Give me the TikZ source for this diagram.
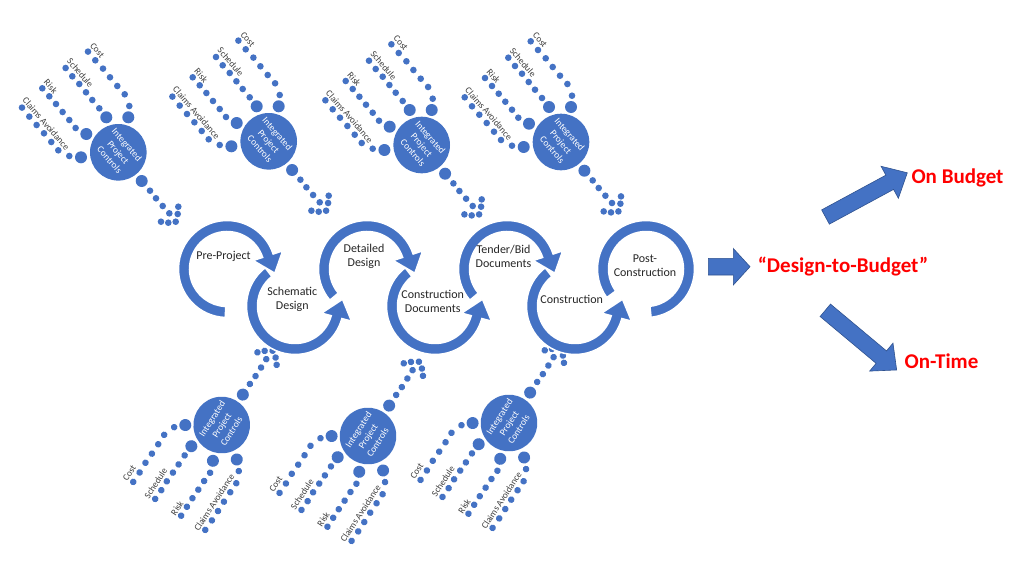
\documentclass[tikz,border=0pt]{standalone}
\usepackage{fontspec}
\setmainfont{Carlito}
\definecolor{ipcblue}{HTML}{4472C4}
\definecolor{ipcedge}{HTML}{2F528F}
\definecolor{ringtext}{HTML}{262626}
\definecolor{lbltext}{HTML}{404040}
\newcommand\rRo{48.5}
\newcommand\rRi{37.5}
\newcommand\rWg{10}
\newcommand\rTa{23}
\newcommand\rTr{48}
\tikzset{
  dotc/.style={fill=ipcblue},
  ctext/.style={text=white, align=center, font=\fontsize{9.5}{11.5}\selectfont, inner sep=0pt},
  lbl/.style={text=lbltext, font=\fontsize{9.3}{10}\selectfont, inner sep=0pt},
  ringfill/.style={fill=ipcblue, draw=white, line width=1.5pt},
  rtext/.style={text=ringtext, align=center, font=\fontsize{12}{14}\selectfont, inner sep=0pt},
  redtext/.style={text=red, font=\bfseries\fontsize{21}{24}\selectfont, inner sep=0pt},
  blockarrow/.style={fill=ipcblue, draw=ipcedge, line width=0.6pt},
}
% clockwise ring with arrowhead: cx, cy, start, end
\newcommand\cwring[4]{%
  \begin{scope}[shift={(#1,#2)}]
    \path[ringfill] (#3:\rRo) arc[start angle=#3, end angle=#4, radius=\rRo]
      -- (#4:{\rRo+\rWg}) -- ({#4-\rTa}:\rTr) -- (#4:{\rRi-\rWg}) -- (#4:\rRi)
      arc[start angle=#4, end angle=#3, radius=\rRi] -- cycle;
  \end{scope}}
% counter-clockwise ring with arrowhead
\newcommand\ccwring[4]{%
  \begin{scope}[shift={(#1,#2)}]
    \path[ringfill] (#3:\rRo) arc[start angle=#3, end angle=#4, radius=\rRo]
      -- (#4:{\rRo+\rWg}) -- ({#4+\rTa}:\rTr) -- (#4:{\rRi-\rWg}) -- (#4:\rRi)
      arc[start angle=#4, end angle=#3, radius=\rRi] -- cycle;
  \end{scope}}
% cluster of integrated project controls: x, y, rotation, name prefix
\newcommand\ipcgroup[4]{%
  \begin{scope}[shift={(#1,#2)}, rotate=#3, name prefix=#4-]
    \fill[dotc] (0,0) circle (28.3);
    \foreach \p in {(10,35),(-12,35),(-32,18.3),(-37.3,-5),(23.4,-28.7)}
      \fill[dotc] \p circle (6);
    \foreach \p in {(11,46.3),(6.4,58),(-1,66.3),(-8.3,75),(-15.3,83.7),(-23,92),(-30.3,100.7),
                    (-19,44),(-26,52.3),(-32.3,60),(-39,68.3),(-46,76),(-52.7,84.3),
                    (-42.7,24.3),(-49,32.3),(-55.7,40.3),(-62.3,48.3),(-69,56),(-76,64),
                    (-49,-3.7),(-60,2),(-67,10.3),(-74.3,19),(-81.7,27.3),(-89,35.7),(-96.3,44.7),
                    (31.7,-38.4),(37.7,-46),(44.4,-53.7),(51,-61),(60,-54.4),(59.4,-61.7),
                    (57.4,-69.4),(50,-70.4),(42.7,-69.4)}
      \fill[dotc] \p circle (3.3);
    \node[ctext, transform shape, rotate=-49] (core) at (0,0) {Integrated\\Project\\Controls};
    \node[lbl, transform shape, rotate=-49] (cost) at (-21,102) {Cost};
    \node[lbl, transform shape, rotate=-49] (sched) at (-38,79.5) {Schedule};
    \node[lbl, transform shape, rotate=-49] (risk) at (-67.5,65.8) {Risk};
    \node[lbl, transform shape, rotate=-49] (claims) at (-72.2,28.5) {Claims Avoidance};
  \end{scope}}
\begin{document}
\begin{tikzpicture}[x=1pt, y=1pt]
  \fill[white] (0,0) rectangle (1024,-576);
  \useasboundingbox (0,0) rectangle (1024,-576);
  % clusters
  \ipcgroup{118.3}{-152.3}{0}{t1}
  \ipcgroup{268.7}{-141.3}{0}{t2}
  \ipcgroup{421.7}{-145}{0}{t3}
  \ipcgroup{561}{-142}{0}{t4}
  \ipcgroup{221.7}{-425}{106}{b1}
  \ipcgroup{368}{-436}{106}{b2}
  \ipcgroup{509}{-423}{106}{b3}
  % cycle rings
  \cwring{227}{-269}{268}{18}
  \ccwring{295}{-306}{128}{345}
  \cwring{367}{-269}{220}{18}
  \ccwring{435}{-306}{128}{345}
  \cwring{507}{-269}{220}{18}
  \ccwring{575}{-306}{128}{345}
  \begin{scope}[shift={(646,-269)}]
    \path[ringfill] (216:\rRo) arc[start angle=216, end angle=-84, radius=\rRo]
      -- (-84:\rRi) arc[start angle=-84, end angle=216, radius=\rRi] -- cycle;
  \end{scope}
  \node[rtext] (pre) at (223.5,-256.7) {Pre-Project};
  \node[rtext] (sch) at (292.3,-299) {Schematic\\Design};
  \node[rtext] (det) at (364,-256) {Detailed\\Design};
  \node[rtext] (cdoc) at (432.7,-301.7) {Construction\\Documents};
  \node[rtext] (ten) at (503.5,-256) {Tender/Bid\\Documents};
  \node[rtext] (con) at (571.7,-299) {Construction};
  \node[rtext] (post) at (645,-266) {Post-\\Construction};
  % outcome arrows
  \filldraw[blockarrow] (708.3,-258.3) -- (733.3,-258.3) -- (733.3,-248.5) -- (750,-266.7)
    -- (733.3,-285) -- (733.3,-275) -- (708.3,-275) -- cycle;
  \begin{scope}[shift={(825.5,-217)}, rotate=28.4]
    \filldraw[blockarrow] (0,-8.1) -- (73,-8.1) -- (73,-18.2) -- (93,0) -- (73,18.2) -- (73,8.1) -- (0,8.1) -- cycle;
  \end{scope}
  \begin{scope}[shift={(825.3,-310.3)}, rotate=-39.9]
    \filldraw[blockarrow] (0,-8.1) -- (73,-8.1) -- (73,-18.2) -- (93,0) -- (73,18.2) -- (73,8.1) -- (0,8.1) -- cycle;
  \end{scope}
  \node[redtext] (dtb) at (843,-267) {“Design-to-Budget”};
  \node[redtext] (onb) at (957.5,-177.5) {On Budget};
  \node[redtext] (ont) at (941.5,-360.8) {On-Time};
\end{tikzpicture}
\end{document}
